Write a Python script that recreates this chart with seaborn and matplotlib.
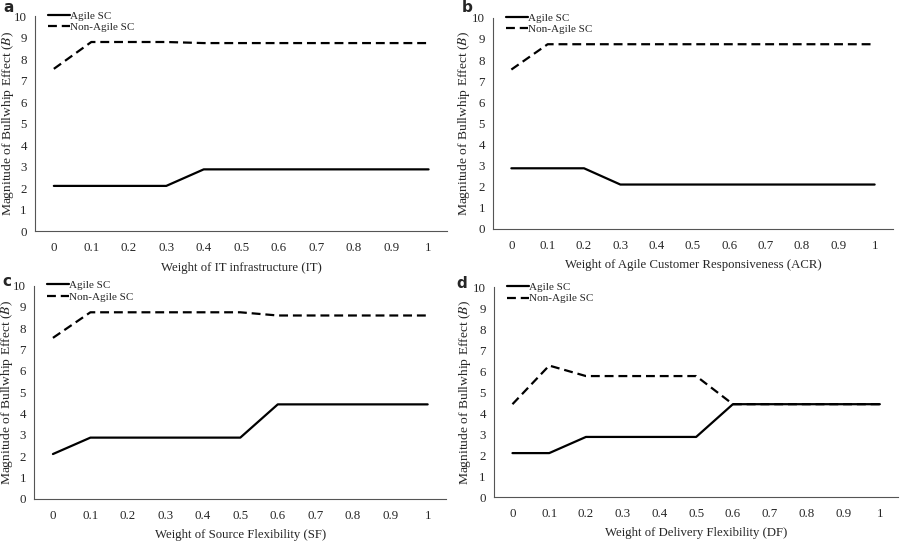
import numpy as np
import pandas as pd
import seaborn as sns
import matplotlib.pyplot as plt

sns.set_style("white")
plt.rcParams['font.family'] = ['Liberation Serif', 'DejaVu Serif']
plt.rcParams['mathtext.fontset'] = 'stix'

weights = ['0', '0.1', '0.2', '0.3', '0.4', '0.5', '0.6', '0.7', '0.8', '0.9', '1']

# panel a: IT infrastructure
agile_it = [2.1, 2.1, 2.1, 2.1, 2.87, 2.87, 2.87, 2.87, 2.87, 2.87, 2.87]
nonagile_it = [7.55, 8.8, 8.8, 8.8, 8.75, 8.75, 8.75, 8.75, 8.75, 8.75, 8.75]
# panel b: agile customer responsiveness
agile_acr = [2.87, 2.87, 2.87, 2.1, 2.1, 2.1, 2.1, 2.1, 2.1, 2.1, 2.1]
nonagile_acr = [7.55, 8.75, 8.75, 8.75, 8.75, 8.75, 8.75, 8.75, 8.75, 8.75, 8.75]
# panel c: source flexibility
agile_sf = [2.1, 2.87, 2.87, 2.87, 2.87, 2.87, 4.43, 4.43, 4.43, 4.43, 4.43]
nonagile_sf = [7.55, 8.75, 8.75, 8.75, 8.75, 8.75, 8.6, 8.6, 8.6, 8.6, 8.6]
# panel d: delivery flexibility
agile_df = [2.1, 2.1, 2.87, 2.87, 2.87, 2.87, 4.43, 4.43, 4.43, 4.43, 4.43]
nonagile_df = [4.43, 6.27, 5.77, 5.77, 5.77, 5.77, 4.43, 4.43, 4.43, 4.43, 4.43]

panels = [
    ('a', 'Weight of IT infrastructure (IT)', agile_it, nonagile_it, [0.039, 0.573, 0.458, 0.397], (3, 8), -0.065),
    ('b', 'Weight of Agile Customer Responsiveness (ACR)', agile_acr, nonagile_acr, [0.548, 0.577, 0.444, 0.390], (462, 8), -0.072),
    ('c', 'Weight of Source Flexibility (SF)', agile_sf, nonagile_sf, [0.038, 0.078, 0.458, 0.394], (2, 282), -0.065),
    ('d', 'Weight of Delivery Flexibility (DF)', agile_df, nonagile_df, [0.549, 0.081, 0.449, 0.388], (456, 283), -0.072),
]

fig = plt.figure(figsize=(9, 5.41), dpi=100)
pos = np.arange(len(weights))

for letter, xlabel, agile, nonagile, rect, lpos, ylx in panels:
    ax = fig.add_axes(rect)
    sns.lineplot(x=pos, y=agile, ax=ax, color='black', linewidth=1.6, label='Agile SC')
    sns.lineplot(x=pos, y=nonagile, ax=ax, color='black', linewidth=1.6, label='Non-Agile SC')
    ax.lines[1].set_dashes([4, 2.2])
    ax.set_xlim(-0.5, len(weights) - 0.5)
    ax.set_ylim(0, 10)
    ax.set_yticks(range(0, 11))
    ax.set_xticks(np.arange(-0.5, len(weights)), labels=[])
    ax.set_xticks(pos, labels=weights, minor=True)
    ax.tick_params(axis='x', which='major', direction='out', length=4, width=0.8, color='#555555')
    ax.tick_params(axis='x', which='minor', length=0, labelsize=9.3, pad=8)
    ax.tick_params(axis='y', direction='out', length=3, width=0.8, color='#555555', labelsize=9.3, pad=3)
    for s in ['top', 'right']:
        ax.spines[s].set_visible(False)
    for s in ['left', 'bottom']:
        ax.spines[s].set_color('#555555')
        ax.spines[s].set_linewidth(0.8)
    ax.set_xlabel(xlabel, fontsize=9.2, va='center')
    ax.xaxis.set_label_coords(0.5, -0.17)
    ax.set_ylabel(r'Magnitude of Bullwhip Effect ($\mathit{B}$)', fontsize=9.7, va='center')
    ax.yaxis.set_label_coords(ylx, 0.5)
    ax.legend(loc='upper left', bbox_to_anchor=(0.02, 1.045), frameon=False, fontsize=8,
              handlelength=2.0, handletextpad=0.0, labelspacing=0.15, borderaxespad=0)
    fig.text(lpos[0] / 900, 1 - lpos[1] / 541, letter, fontsize=11, fontweight='bold',
             family='DejaVu Sans', va='center', ha='left')

fig.savefig('out.png', dpi=100)
